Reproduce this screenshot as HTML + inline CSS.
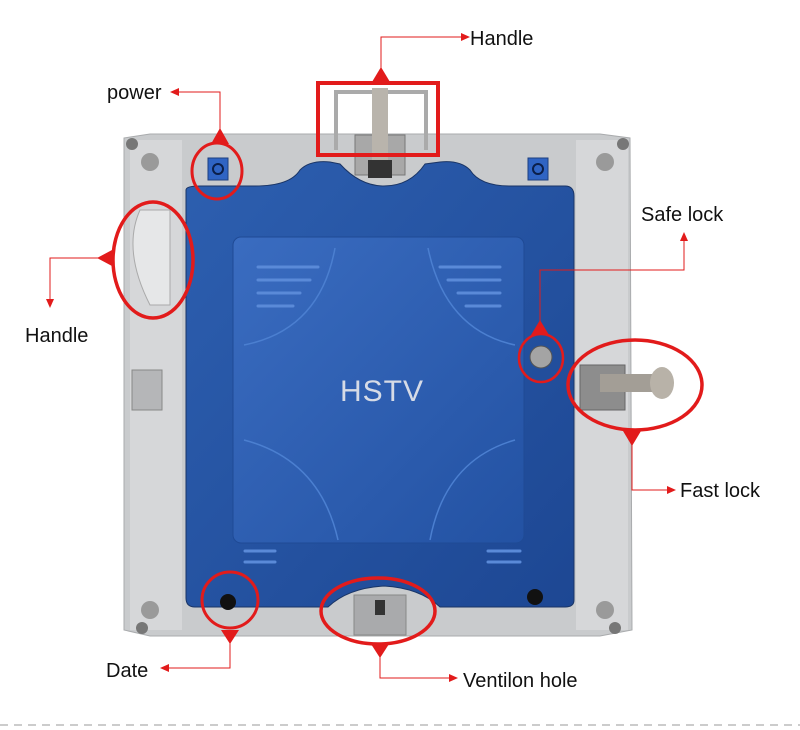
<!DOCTYPE html>
<html><head><meta charset="utf-8"><style>
html,body{margin:0;padding:0;background:#fff;}
svg{display:block;font-family:"Liberation Sans",sans-serif;}
</style></head><body>
<svg width="800" height="730" viewBox="0 0 800 730" xmlns="http://www.w3.org/2000/svg">
<defs>
<linearGradient id="blue" x1="0" y1="0" x2="1" y2="1"><stop offset="0" stop-color="#2d5fb0"/><stop offset="1" stop-color="#1d4793"/></linearGradient>
<linearGradient id="inner" x1="0" y1="0" x2="1" y2="1"><stop offset="0" stop-color="#3a6cc0"/><stop offset="1" stop-color="#2352a3"/></linearGradient>
</defs>
<!-- frame -->
<path d="M124 138 L150 134 L600 134 L630 138 L632 630 L600 636 L150 636 L124 630 Z" fill="#c9cbcd" stroke="#a9abad"/>
<rect x="130" y="140" width="52" height="490" fill="#d6d7d9"/>
<rect x="576" y="140" width="52" height="490" fill="#d6d7d9"/>
<circle cx="150" cy="162" r="9" fill="#9a9a9a"/><circle cx="605" cy="162" r="9" fill="#9a9a9a"/>
<circle cx="150" cy="610" r="9" fill="#9a9a9a"/><circle cx="605" cy="610" r="9" fill="#9a9a9a"/>
<circle cx="132" cy="144" r="6" fill="#777"/><circle cx="623" cy="144" r="6" fill="#777"/>
<circle cx="142" cy="628" r="6" fill="#777"/><circle cx="615" cy="628" r="6" fill="#777"/>
<!-- blue cover -->
<path d="M186 190 Q186 186 200 186 L255 186 Q290 186 300 170 Q310 160 330 162 L340 164 Q360 186 384 186 Q410 186 425 164 L440 162 Q460 160 470 170 Q480 186 510 186 L565 186 Q574 186 574 196 L574 600 Q574 607 565 607 L440 607 Q420 588 384 586 Q348 588 328 607 L195 607 Q186 607 186 598 Z" fill="url(#blue)" stroke="#1a3566"/>
<rect x="233" y="237" width="291" height="306" rx="8" fill="url(#inner)" stroke="#1f4a95"/>
<path d="M244 345 Q320 330 335 248" fill="none" stroke="#4b7fd0" stroke-width="1.5"/>
<path d="M515 345 Q445 330 428 248" fill="none" stroke="#4b7fd0" stroke-width="1.5"/>
<path d="M244 440 Q320 460 338 540" fill="none" stroke="#4b7fd0" stroke-width="1.5"/>
<path d="M515 440 Q445 460 430 540" fill="none" stroke="#4b7fd0" stroke-width="1.5"/>
<g stroke="#5a8ad8" stroke-width="3" stroke-linecap="round">
<line x1="258" y1="267" x2="318" y2="267"/><line x1="258" y1="280" x2="310" y2="280"/><line x1="258" y1="293" x2="300" y2="293"/><line x1="258" y1="306" x2="293" y2="306"/>
<line x1="440" y1="267" x2="500" y2="267"/><line x1="448" y1="280" x2="500" y2="280"/><line x1="458" y1="293" x2="500" y2="293"/><line x1="466" y1="306" x2="500" y2="306"/>
<line x1="245" y1="551" x2="275" y2="551"/><line x1="245" y1="562" x2="275" y2="562"/>
<line x1="488" y1="551" x2="520" y2="551"/><line x1="488" y1="562" x2="520" y2="562"/>
</g>
<text x="382" y="401" font-size="30" text-anchor="middle" fill="#d6dbe6" letter-spacing="1">HSTV</text>
<!-- power connectors -->
<rect x="208" y="158" width="20" height="22" fill="#2f64c4" stroke="#1d3f80"/><circle cx="218" cy="169" r="5" fill="none" stroke="#0b1f4a" stroke-width="2"/>
<rect x="528" y="158" width="20" height="22" fill="#2f64c4" stroke="#1d3f80"/><circle cx="538" cy="169" r="5" fill="none" stroke="#0b1f4a" stroke-width="2"/>
<!-- top handle -->
<path d="M336 150 L336 92 L426 92 L426 150" fill="none" stroke="#aaa" stroke-width="4"/>
<rect x="355" y="135" width="50" height="40" fill="#a8a8a8" stroke="#777"/>
<rect x="368" y="160" width="24" height="18" fill="#333"/>
<rect x="372" y="88" width="16" height="72" fill="#b9b4ac"/>
<!-- left handle -->
<path d="M140 210 Q122 250 150 305 L170 305 L170 210 Z" fill="#e6e7e8" stroke="#aaa"/>
<rect x="132" y="370" width="30" height="40" fill="#b5b6b8" stroke="#888"/>
<!-- right lock -->
<rect x="580" y="365" width="45" height="45" fill="#8d8d8d" stroke="#666"/>
<rect x="600" y="374" width="55" height="18" fill="#a39e96"/>
<ellipse cx="662" cy="383" rx="12" ry="16" fill="#b8b2a8"/>
<!-- safe lock -->
<circle cx="541" cy="357" r="11" fill="#a4a4a4" stroke="#555"/>
<!-- bottom holes -->
<circle cx="228" cy="602" r="8" fill="#111"/><circle cx="535" cy="597" r="8" fill="#111"/>
<rect x="354" y="595" width="52" height="40" fill="#a9aaac" stroke="#888"/>
<rect x="375" y="600" width="10" height="15" fill="#333"/>

<!-- annotations -->
<g stroke="#e21b1b" fill="none">
<rect x="318" y="83" width="120" height="72" stroke-width="4"/>
<ellipse cx="217" cy="171" rx="25" ry="28" stroke-width="3"/>
<ellipse cx="153" cy="260" rx="40" ry="58" stroke-width="3.5"/>
<ellipse cx="541" cy="358" rx="22" ry="24" stroke-width="2.5"/>
<ellipse cx="635" cy="385" rx="67" ry="45" stroke-width="3.5"/>
<ellipse cx="230" cy="600" rx="28" ry="28" stroke-width="3"/>
<ellipse cx="378" cy="611" rx="57" ry="33" stroke-width="3.5"/>
<g stroke-width="1">
<polyline points="381,70 381,37 462,37"/>
<polyline points="220,130 220,92 178,92"/>
<polyline points="105,258 50,258 50,300"/>
<polyline points="540,322 540,270 684,270 684,240"/>
<polyline points="632,440 632,490 668,490"/>
<polyline points="230,640 230,668 168,668"/>
<polyline points="380,652 380,678 450,678"/>
</g>
</g>
<g fill="#e21b1b">
<polygon points="381,67 372,82 390,82"/><polygon points="470,37 461,33 461,41"/>
<polygon points="220,128 211,144 229,144"/><polygon points="170,92 179,88 179,96"/>
<polygon points="97,258 112,250 112,266"/><polygon points="50,308 46,299 54,299"/>
<polygon points="540,320 531,335 549,335"/><polygon points="684,232 680,241 688,241"/>
<polygon points="623,431 641,431 632,446"/><polygon points="676,490 667,486 667,494"/>
<polygon points="221,630 239,630 230,644"/><polygon points="160,668 169,664 169,672"/>
<polygon points="371,644 389,644 380,658"/><polygon points="458,678 449,674 449,682"/>
</g>
<g font-size="20" fill="#111">
<text x="470" y="45">Handle</text>
<text x="107" y="99">power</text>
<text x="25" y="342">Handle</text>
<text x="641" y="221">Safe lock</text>
<text x="680" y="497">Fast lock</text>
<text x="106" y="677">Date</text>
<text x="463" y="687">Ventilon hole</text>
</g>
<line x1="0" y1="725" x2="800" y2="725" stroke="#999" stroke-dasharray="8,6"/>
</svg>
</body></html>
